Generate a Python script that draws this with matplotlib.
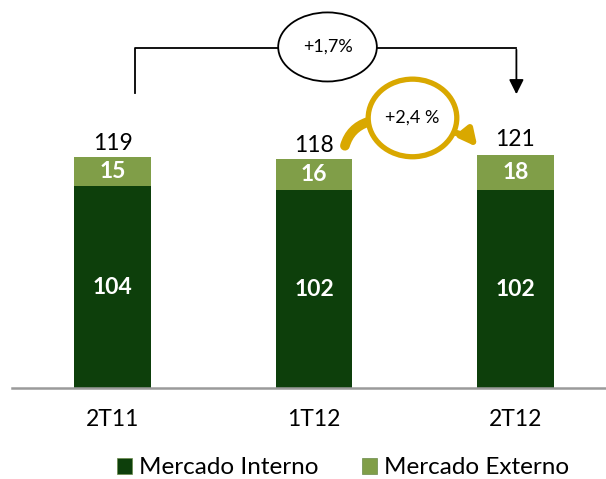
import numpy as np
import matplotlib
matplotlib.use("Agg")
import matplotlib.pyplot as plt
from matplotlib.patches import Ellipse, Patch

### Data
categories = ["2T11", "1T12", "2T12"]
interno = [104, 102, 102]
externo = [15, 16, 18]
totals = [119, 118, 121]
var_total = "+1,7%"
var_quarter = "+2,4 %"

### Style
c_int = "#0d3f0b"
c_ext = "#809e48"
gold = "#d9a800"
fs = 16.5
plt.rcParams["font.family"] = ["Lato", "DejaVu Sans"]

fig = plt.figure(figsize=(6.06, 4.79), dpi=100)
ax = fig.add_axes([12/606, 91/479, 594/606, 388/479])
x = np.arange(len(categories))
w = 0.38

ax.bar(x, interno, width=w, color=c_int, zorder=2)
ax.bar(x, externo, width=w, bottom=interno, color=c_ext, zorder=2)

for i in range(len(x)):
    ax.text(x[i], interno[i] / 2, str(interno[i]), ha="center", va="center",
            color="white", fontsize=fs, fontweight="bold", zorder=3)
    ax.text(x[i], interno[i] + externo[i] / 2, str(externo[i]), ha="center", va="center",
            color="white", fontsize=fs, fontweight="bold", zorder=3)
    ax.text(x[i], totals[i] + 1.5, str(totals[i]), ha="center", va="bottom",
            color="black", fontsize=fs)

ax.set_xlim(-0.5, 2.45)
ax.set_ylim(0, 200)
ax.set_xticks(x)
ax.set_xticklabels(categories, fontsize=fs)
ax.tick_params(axis="x", length=0, pad=15)
ax.set_yticks([])
for s in ["top", "right", "left"]:
    ax.spines[s].set_visible(False)
ax.spines["bottom"].set_color("#9a9a9a")
ax.spines["bottom"].set_linewidth(1.8)

### Bracket 2T11 -> 2T12
yb = 175.3
ax.plot([0.109, 0.109, 2.005], [152, yb, yb], color="black", lw=1.3, zorder=1)
ax.annotate("", xy=(2.005, 150), xytext=(2.005, yb + 0.5),
            arrowprops=dict(arrowstyle="-|>", color="black", lw=1.3, mutation_scale=22))
ax.add_patch(Ellipse((1.067, 175.8), 0.49, 35.6, facecolor="white", edgecolor="black",
                     lw=1.3, zorder=4))
ax.text(1.067, 175.8, var_total, ha="center", va="center", fontsize=13, zorder=5)

### Gold circular arrow 1T12 -> 2T12
ax.annotate("", xy=(1.28, 137.5), xytext=(1.15, 123.5),
            arrowprops=dict(arrowstyle="-", color=gold, lw=7,
                            connectionstyle="arc3,rad=-0.3"), zorder=4)
ax.annotate("", xy=(1.82, 123.0), xytext=(1.685, 132),
            arrowprops=dict(arrowstyle="-|>", color=gold, lw=4.5, mutation_scale=24,
                            connectionstyle="arc3,rad=-0.2"), zorder=4)
ax.add_patch(Ellipse((1.489, 139.2), 0.44, 40, facecolor="white", edgecolor=gold,
                     lw=3.8, zorder=5))
ax.text(1.489, 139.2, var_quarter, ha="center", va="center", fontsize=13, zorder=6)

### Legend
handles = [Patch(facecolor=c_int, edgecolor="#6a8a4a", lw=0.5, label="Mercado Interno"),
           Patch(facecolor=c_ext, edgecolor="#6a8a4a", lw=0.5, label="Mercado Externo")]
fig.legend(handles=handles, loc="center", bbox_to_anchor=(343/606, 1 - 468/479), ncol=2,
           frameon=False, fontsize=17.5, handlelength=0.6, handleheight=0.6,
           handletextpad=0.3, columnspacing=1.8)

plt.savefig("out.png", dpi=100)
